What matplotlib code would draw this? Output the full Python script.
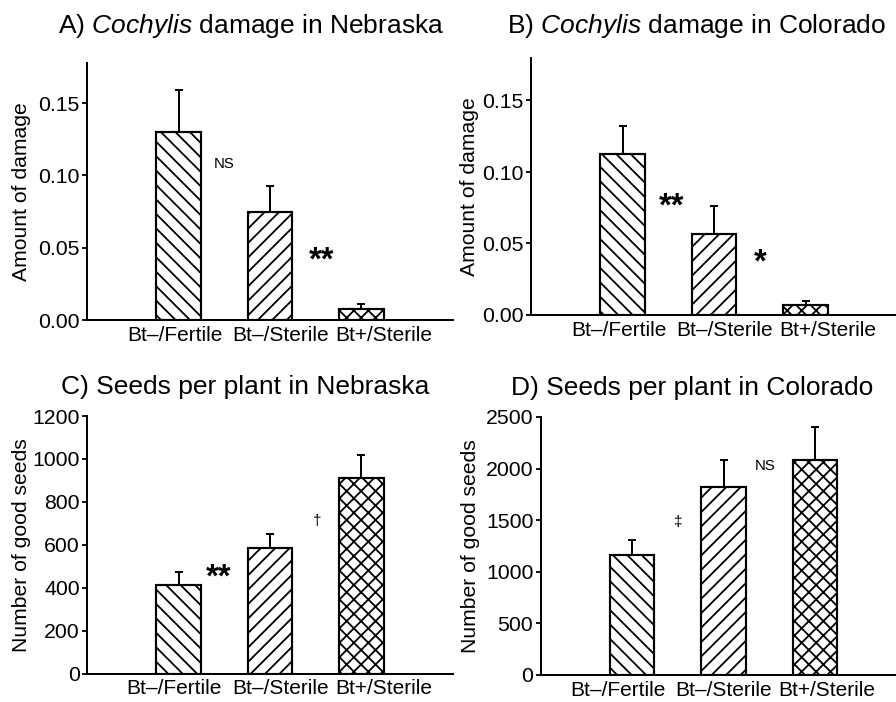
import numpy as np
import matplotlib
matplotlib.use('Agg')
import matplotlib.pyplot as plt
from matplotlib.ticker import FormatStrFormatter

# data
groups = ['Bt\u2013/Fertile', 'Bt\u2013/Sterile', 'Bt+/Sterile']

damage_ne = [0.130, 0.0745, 0.0074]
damage_ne_err = [0.029, 0.0185, 0.0036]
damage_co = [0.1126, 0.0566, 0.0072]
damage_co_err = [0.0194, 0.0198, 0.0026]
seeds_ne = [411, 586, 909]
seeds_ne_err = [63, 64, 111]
seeds_co = [1166, 1822, 2083]
seeds_co_err = [142, 258, 320]

# significance marks: (text, x, y)
marks_a = [('NS', 1.50, 0.108), ('**', 2.56, 0.0405)]
marks_b = [('**', 1.54, 0.0757), ('*', 2.50, 0.0365)]
marks_c = [('**', 1.44, 444), ('\u2020', 2.52, 710)]
marks_d = [('\u2021', 1.50, 1485), ('NS', 2.46, 2025)]

DPI = 130
plt.rcParams['font.family'] = ['Liberation Sans', 'DejaVu Sans']
plt.rcParams['mathtext.fontset'] = 'custom'
plt.rcParams['mathtext.rm'] = 'Liberation Sans'
plt.rcParams['mathtext.it'] = 'Liberation Sans:italic'
plt.rcParams['hatch.linewidth'] = 1.0

fig = plt.figure(figsize=(896 / DPI, 702 / DPI), dpi=DPI)
W, H = 896.0, 702.0


def make_axes(left, top, bottom, width=366):
    return fig.add_axes([left / W, 1 - bottom / H, width / W, (bottom - top) / H])


def panel(ax, vals, errs, ymax, yticks, fmt, ylabel, marks, label_x, label_pos):
    x = np.arange(1, len(vals) + 1)
    hatches = ['\\\\\\', '///', 'xxx']
    for xi, v, h in zip(x, vals, hatches):
        ax.bar(xi, v, width=0.49, color='white', edgecolor='black',
               linewidth=1.2, hatch=h, zorder=2)
    ax.errorbar(x, vals, yerr=[np.zeros(len(errs)), errs], fmt='none',
                ecolor='black', elinewidth=1.1, capsize=2.3, capthick=1.1, zorder=1)
    ax.set_xlim(0, 4)
    ax.set_ylim(0, ymax)
    ax.set_yticks(yticks)
    ax.yaxis.set_major_formatter(FormatStrFormatter(fmt))
    ax.set_xticks(label_pos)
    ax.set_xticklabels(groups, fontsize=11.6)
    ax.tick_params(axis='x', length=0, pad=3.2)
    ax.tick_params(axis='y', length=2.5, width=1.0, pad=1.5, labelsize=11.8)
    for s in ['top', 'right']:
        ax.spines[s].set_visible(False)
    for s in ['left', 'bottom']:
        ax.spines[s].set_linewidth(1.1)
    ax.spines['bottom'].set_clip_on(False)
    ax.set_ylabel(ylabel, fontsize=11.7)
    ax.yaxis.set_label_coords(label_x, 0.5)
    for txt, mx, my in marks:
        if txt == 'NS':
            ax.text(mx, my, txt, fontsize=8.3, ha='center', va='center')
        elif '*' in txt:
            ax.text(mx, my, txt, fontsize=18, fontweight='bold',
                    ha='center', va='center')
        else:
            ax.text(mx, my, txt, fontsize=8.5, ha='center', va='center')


ax_a = make_axes(87, 62.6, 320)
panel(ax_a, damage_ne, damage_ne_err, 0.178, [0, 0.05, 0.10, 0.15], '%.2f',
      'Amount of damage', marks_a, -0.153, [0.96, 2.11, 3.24])

ax_b = make_axes(531, 57.6, 315)
panel(ax_b, damage_co, damage_co_err, 0.180, [0, 0.05, 0.10, 0.15], '%.2f',
      'Amount of damage', marks_b, -0.143, [0.96, 2.11, 3.24])

ax_c = make_axes(87, 416, 673.7)
panel(ax_c, seeds_ne, seeds_ne_err, 1200, [0, 200, 400, 600, 800, 1000, 1200], '%d',
      'Number of good seeds', marks_c, -0.153, [0.95, 2.11, 3.24])

ax_d = make_axes(540.5, 417, 675)
panel(ax_d, seeds_co, seeds_co_err, 2500, [0, 500, 1000, 1500, 2000, 2500], '%d',
      'Number of good seeds', marks_d, -0.166, [0.85, 2.00, 3.13])

title_kw = dict(fontsize=14.6, ha='center', va='baseline')
fig.text(251.5 / W, 1 - 33 / H, 'A) $\\mathit{Cochylis}$ damage in Nebraska', **title_kw)
fig.text(697 / W, 1 - 33 / H, 'B) $\\mathit{Cochylis}$ damage in Colorado', **title_kw)
fig.text(245 / W, 1 - 394 / H, 'C) Seeds per plant in Nebraska', **title_kw)
fig.text(692 / W, 1 - 395 / H, 'D) Seeds per plant in Colorado', **title_kw)

fig.savefig('out.png', dpi=DPI)
